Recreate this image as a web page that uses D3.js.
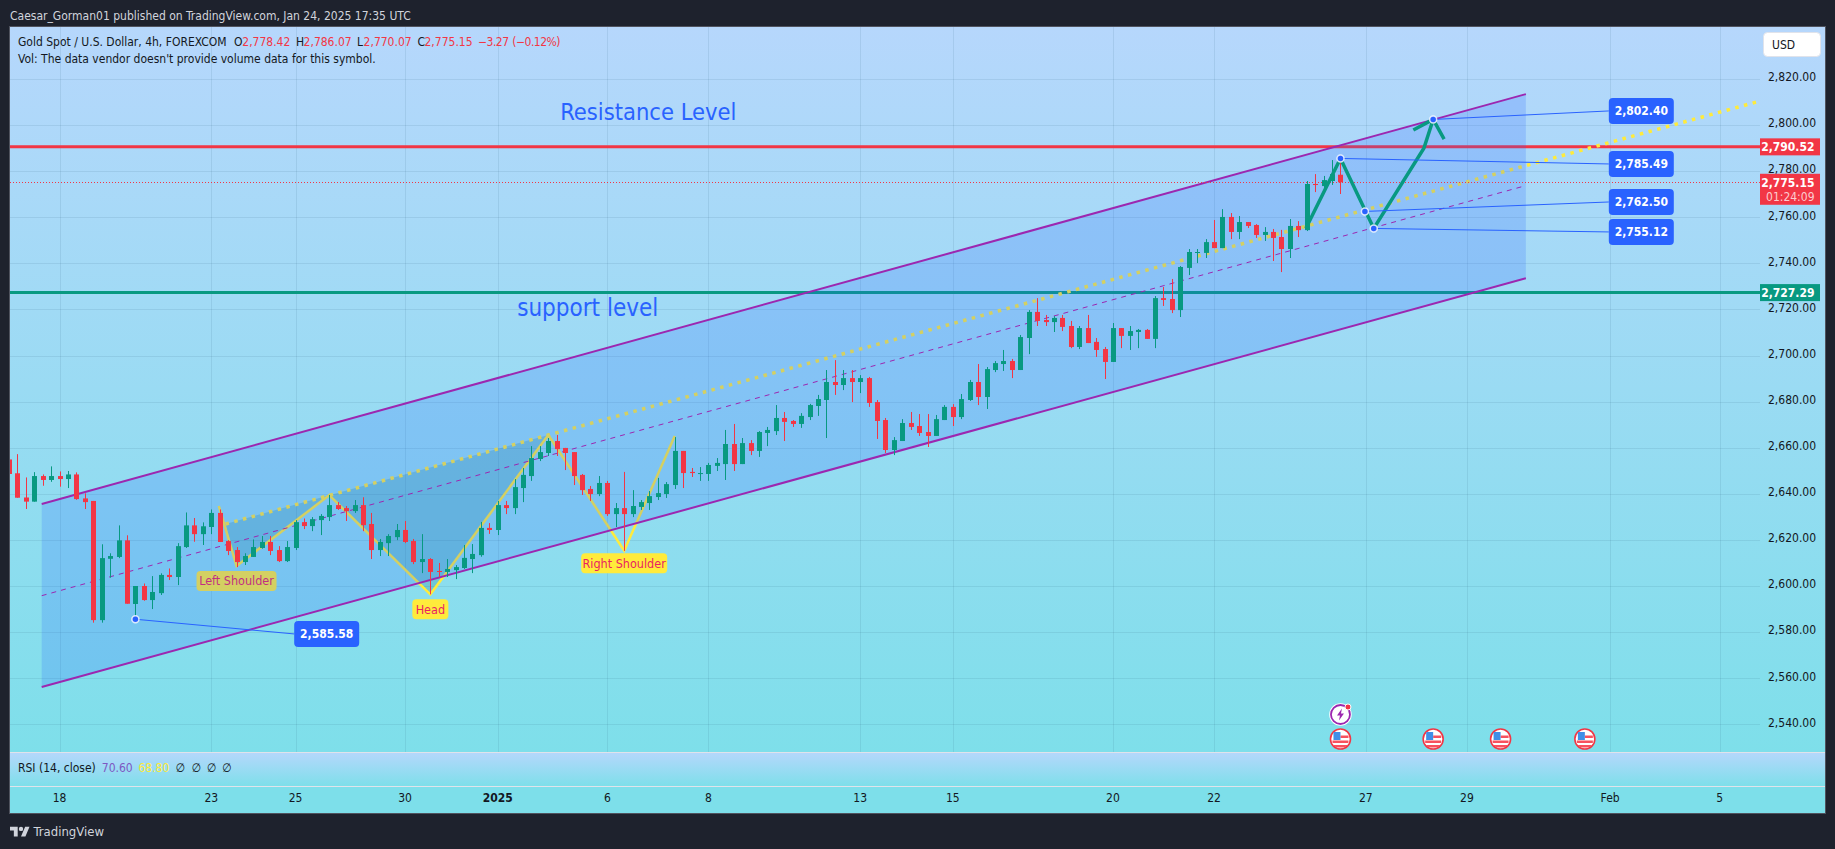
<!DOCTYPE html>
<html><head><meta charset="utf-8">
<script src="https://cdn.jsdelivr.net/npm/d3@7"></script>
<style>html,body{margin:0;padding:0;background:#1e222d;overflow:hidden}svg{display:block}
text{font-family:"DejaVu Sans Condensed","DejaVu Sans";font-stretch:condensed}</style></head><body>
<svg id="c" width="1835" height="849"></svg>
<script>
const opens=[2654.9,2648.9,2638.4,2636.6,2647.7,2646.0,2647.7,2646.4,2648.4,2638.0,2636.9,2585.2,2611.8,2612.6,2619.8,2592.2,2600.0,2593.9,2596.9,2604.8,2603.9,2616.9,2626.3,2622.5,2625.6,2631.7,2619.5,2615.6,2610.4,2612.6,2616.5,2619.1,2615.6,2610.8,2616.5,2627.7,2626.0,2628.6,2629.9,2635.1,2633.8,2632.5,2635.1,2626.9,2615.6,2618.6,2621.2,2624.3,2619.5,2610.4,2611.7,2606.5,2606.1,2606.9,2607.8,2611.7,2613.4,2625.2,2624.3,2635.1,2633.8,2642.5,2647.7,2655.1,2657.7,2662.9,2659.9,2658.1,2648.2,2642.1,2639.9,2644.7,2631.2,2633.8,2631.2,2634.3,2636.0,2638.6,2639.9,2643.8,2658.6,2649.5,2648.6,2648.6,2652.1,2652.9,2661.6,2652.9,2662.0,2658.6,2666.4,2667.2,2672.9,2671.6,2670.3,2673.3,2678.1,2680.7,2688.5,2687.2,2690.2,2688.5,2690.2,2679.8,2672.0,2659.0,2662.9,2670.7,2669.4,2666.8,2665.1,2672.0,2677.7,2673.3,2680.7,2688.5,2682.0,2693.7,2696.3,2697.6,2693.7,2707.6,2718.9,2715.4,2714.5,2716.3,2712.8,2703.7,2711.9,2705.9,2702.8,2697.2,2711.9,2708.5,2710.2,2711.1,2707.2,2724.9,2724.5,2719.7,2738.0,2744.5,2744.5,2749.2,2746.6,2760.1,2753.6,2757.9,2756.6,2752.3,2753.6,2751.4,2746.2,2756.2,2754.4,2774.4,2773.5,2775.7,2778.42];
const highs=[2655.5,2657.2,2647.1,2649.4,2648.4,2651.9,2649.7,2649.9,2649.3,2640.2,2636.9,2618.1,2614.2,2626.3,2622.0,2600.0,2601.1,2604.3,2605.5,2607.6,2618.6,2631.9,2629.5,2627.6,2633.2,2633.2,2619.9,2616.9,2614.2,2620.2,2621.7,2621.7,2617.3,2619.5,2628.6,2629.3,2629.9,2631.2,2639.5,2636.4,2634.7,2637.3,2638.5,2631.7,2620.4,2622.5,2626.9,2628.2,2620.4,2622.5,2612.1,2610.0,2611.7,2609.1,2617.8,2618.2,2627.8,2627.3,2636.9,2636.9,2646.4,2651.2,2660.7,2660.7,2664.2,2665.5,2659.9,2658.1,2648.6,2643.4,2647.7,2645.6,2636.0,2649.5,2641.6,2637.3,2641.2,2646.9,2645.1,2664.6,2658.6,2651.2,2651.6,2653.4,2655.5,2667.7,2670.3,2664.2,2663.3,2667.2,2669.0,2678.5,2675.5,2672.0,2675.0,2679.0,2682.9,2693.7,2698.0,2693.7,2693.7,2691.5,2690.7,2680.7,2672.9,2664.6,2672.4,2675.5,2674.6,2674.6,2674.2,2678.5,2678.9,2683.3,2689.4,2696.3,2695.0,2697.6,2702.4,2698.5,2708.9,2719.7,2724.9,2717.6,2717.1,2717.6,2715.0,2712.8,2717.6,2707.6,2703.7,2714.1,2711.9,2712.8,2711.5,2711.5,2725.8,2729.7,2733.2,2738.8,2746.2,2746.2,2750.5,2758.8,2763.5,2761.8,2760.5,2757.9,2757.0,2755.7,2754.9,2754.5,2759.2,2758.3,2775.7,2778.7,2777.9,2784.8,2786.07];
const lows=[2648.0,2638.3,2633.4,2636.6,2643.5,2645.2,2643.1,2642.5,2637.4,2633.4,2584.1,2584.1,2603.6,2612.1,2592.3,2585.58,2593.6,2590.0,2596.1,2602.6,2600.4,2616.5,2619.2,2617.8,2622.5,2619.1,2613.4,2608.2,2609.1,2612.6,2616.2,2613.4,2610.4,2610.4,2615.6,2624.7,2623.8,2622.1,2628.2,2633.0,2628.2,2631.7,2623.8,2611.7,2613.0,2613.0,2619.9,2618.6,2609.5,2605.6,2596.4,2603.9,2603.9,2603.0,2607.4,2605.6,2612.7,2622.6,2622.1,2631.2,2631.2,2636.4,2645.6,2654.2,2656.4,2656.4,2650.3,2643.8,2639.5,2636.9,2639.0,2630.4,2625.6,2615.2,2629.9,2633.0,2633.0,2637.3,2638.2,2642.1,2642.5,2647.3,2645.6,2645.6,2649.9,2646.0,2649.9,2652.9,2656.8,2656.0,2660.7,2665.5,2662.9,2669.0,2668.6,2672.0,2673.8,2664.2,2682.9,2685.0,2679.8,2683.7,2677.7,2663.8,2657.7,2656.8,2662.9,2667.7,2665.1,2660.3,2665.1,2672.0,2669.4,2672.4,2680.3,2678.5,2676.8,2692.8,2693.3,2690.2,2693.7,2700.6,2712.8,2712.8,2710.2,2710.6,2703.2,2702.8,2705.4,2699.4,2689.8,2697.2,2703.2,2702.4,2703.2,2707.2,2703.2,2721.5,2718.4,2716.7,2734.9,2740.1,2742.3,2746.6,2746.6,2750.5,2750.5,2755.3,2751.0,2749.7,2741.0,2736.2,2742.3,2751.4,2754.0,2770.9,2771.8,2774.0,2770.07];
const closes=[2648.6,2638.3,2636.6,2647.7,2646.0,2647.7,2646.4,2648.4,2637.7,2636.4,2585.2,2612.1,2613.0,2619.8,2592.3,2600.0,2593.9,2597.4,2604.8,2603.9,2617.3,2626.3,2622.5,2625.9,2631.7,2619.1,2615.2,2610.4,2613.0,2616.9,2619.1,2615.2,2610.8,2616.9,2627.7,2626.0,2629.0,2630.4,2635.1,2633.4,2632.5,2635.1,2626.4,2615.6,2619.1,2621.7,2624.3,2619.1,2610.4,2611.7,2606.1,2606.1,2607.4,2608.2,2612.2,2613.9,2625.2,2624.3,2635.1,2633.8,2642.9,2648.2,2655.5,2658.1,2662.9,2659.4,2657.7,2647.7,2641.6,2639.9,2644.7,2631.2,2633.8,2631.2,2634.7,2636.4,2639.0,2640.3,2644.2,2658.6,2649.0,2649.0,2649.0,2652.5,2653.4,2661.6,2652.9,2662.0,2658.6,2666.8,2667.7,2672.9,2671.2,2670.3,2673.8,2678.5,2681.1,2688.5,2687.2,2690.2,2688.5,2690.2,2679.4,2671.6,2659.0,2663.3,2670.7,2669.0,2666.4,2665.1,2672.4,2677.7,2673.3,2681.1,2688.5,2682.0,2694.1,2696.7,2697.6,2693.7,2708.0,2718.9,2715.0,2714.5,2716.3,2712.4,2703.7,2711.9,2705.4,2702.4,2697.2,2711.9,2708.5,2710.6,2711.1,2707.2,2724.9,2724.1,2719.7,2738.4,2744.9,2744.9,2749.2,2746.6,2760.1,2753.6,2757.9,2756.2,2752.3,2753.6,2751.0,2746.2,2756.2,2754.4,2774.4,2774.0,2776.1,2778.7,2775.15];
const priceTicks=[2540,2560,2580,2600,2620,2640,2660,2680,2700,2720,2740,2760,2780,2800,2820];
const timeBars=[6,24,34,47,58,71,83,101,112,131,143,161,173,190,203];
const timeLabels=["18","23","25","30","2025","6","8","13","15","20","22","27","29","Feb","5"];
const resistancePrice=2790.52, supportPrice=2727.29, lastPrice=2775.15;
const channelUpper=[[3.88,2635.6],[180,2813.4]];
const channelLower=[[3.88,2556.2],[180,2733.5]];
const channelMid=[[3.88,2595.8],[179.5,2773.2]];
const neckline=[[25.7,2626.9],[207.5,2810.1]];
const patternPts=[[24.9,2634.7],[27,2608.7],[38,2639.4],[50,2596.4],[64,2665.5],[73,2615.3],[79,2665.1]];
const patternLabels=[["Left Shoulder",27,2608.7],["Head",50,2596.4],["Right Shoulder",73,2615.3]];
const arrowPts=[[153.9,2755.2],[158,2785.49],[161.95,2755.12],[167.9,2789.9],[169,2802.4]];
const arrowHead=[[166.65,2797.8],[169,2802.4],[170.3,2793.9]];
const callouts=[[15,2585.58,37.7,2579.2],[169,2802.40,193.7,2806.1],[158,2785.49,193.7,2783.1],[160.9,2762.50,193.7,2766.6],[161.95,2755.12,193.7,2753.6]];
const calendarBars=[158,169,177,187];

const svg=d3.select("#c");
const defs=svg.append("defs");
const grad=defs.append("linearGradient").attr("id","bg").attr("x1",0).attr("x2",0).attr("y1",0).attr("y2",1);
grad.append("stop").attr("offset",0).attr("stop-color","#b6d7fc");
grad.append("stop").attr("offset",1).attr("stop-color","#7edfea");
const PL=10,PR=1825,PT=27,PB=752,RB=786,TB=813,AX=1760;
defs.append("clipPath").attr("id","plot").append("rect").attr("x",PL).attr("y",PT).attr("width",AX-PL).attr("height",PB-PT);
const x=d3.scaleLinear().domain([0,210]).range([9,9+8.427*210]);
const y=d3.scaleLinear().domain([2540,2800]).range([724.3,125]);
const line=d3.line().x(d=>x(d[0])).y(d=>y(d[1]));
const fmt=d3.format(",.2f");
const UI='"DejaVu Sans Condensed","DejaVu Sans"';

svg.append("rect").attr("width",1835).attr("height",849).attr("fill","#1e222d");
svg.append("rect").attr("x",PL).attr("y",PT).attr("width",PR-PL).attr("height",PB-PT).attr("fill","url(#bg)");
svg.append("rect").attr("x",PL).attr("y",PB).attr("width",PR-PL).attr("height",RB-PB).attr("fill","url(#bg)");
svg.append("rect").attr("x",PL).attr("y",RB).attr("width",PR-PL).attr("height",TB-RB).attr("fill","#7ddfea");

// grid
const gridC="rgba(30,80,110,0.10)";
const gridY=svg.append("g").attr("clip-path","url(#plot)");
gridY.selectAll("line.h").data(priceTicks).join("line").attr("x1",PL).attr("x2",AX)
 .attr("y1",d=>Math.round(y(d))+.5).attr("y2",d=>Math.round(y(d))+.5).attr("stroke",gridC);
gridY.selectAll("line.v").data(timeBars).join("line").attr("y1",PT).attr("y2",PB)
 .attr("x1",d=>Math.round(x(d))+.5).attr("x2",d=>Math.round(x(d))+.5).attr("stroke",gridC);

const plot=svg.append("g").attr("clip-path","url(#plot)");
// under-channel drawings
plot.append("line").attr("x1",PL).attr("x2",AX).attr("y1",y(resistancePrice)).attr("y2",y(resistancePrice)).attr("stroke","#f23645").attr("stroke-width",3);
plot.append("line").attr("x1",PL).attr("x2",AX).attr("y1",y(supportPrice)).attr("y2",y(supportPrice)).attr("stroke","#089981").attr("stroke-width",3);
const shade=[[neckline[0],patternPts[1],patternPts[2]],[patternPts[2],patternPts[3],patternPts[4]]];
plot.selectAll("path.sh").data(shade).join("path").attr("d",d=>line(d)+"Z").attr("fill","rgb(0,110,122)").attr("fill-opacity",.2);
plot.append("path").attr("d",line(patternPts)).attr("fill","none").attr("stroke","#ffeb3b").attr("stroke-width",2.5).attr("stroke-linejoin","miter");
plot.append("path").attr("d",line(neckline)).attr("fill","none").attr("stroke","#ffeb3b").attr("stroke-width",3.5).attr("stroke-dasharray","3.5 5.5");
const pillW={"Left Shoulder":80,"Head":36,"Right Shoulder":86};
const pillOff={"Left Shoulder":5,"Head":5,"Right Shoulder":2.5};
const pills=plot.selectAll("g.pill").data(patternLabels).join("g").attr("transform",d=>`translate(${x(d[1])},${y(d[2])+pillOff[d[0]]})`);
pills.append("rect").attr("x",d=>-pillW[d[0]]/2).attr("y",0).attr("width",d=>pillW[d[0]]).attr("height",20).attr("rx",4).attr("fill","#ffeb3b");
pills.append("text").attr("text-anchor","middle").attr("y",14.5).attr("font-size",12.5).attr("fill","#e91e63").text(d=>d[0]);
// channel
const chan=channelUpper.concat(channelLower.slice().reverse());
plot.append("path").attr("d",line(chan)+"Z").attr("fill","#2962ff").attr("fill-opacity",.2);
plot.append("path").attr("d",line(channelMid)).attr("fill","none").attr("stroke","#9c27b0").attr("stroke-width",1).attr("stroke-dasharray","5 5");
[channelUpper,channelLower].forEach(c=>plot.append("path").attr("d",line(c)).attr("fill","none").attr("stroke","#9c27b0").attr("stroke-width",2));
// last price
plot.append("line").attr("x1",PL).attr("x2",AX).attr("y1",Math.round(y(lastPrice))+.5).attr("y2",Math.round(y(lastPrice))+.5).attr("stroke","#f23645").attr("stroke-dasharray","1 2");
// candles
const colr=i=>closes[i]>=opens[i]?"#089981":"#f23645";
const idx=d3.range(opens.length);
plot.selectAll("rect.w").data(idx).join("rect").attr("x",i=>Math.round(x(i))).attr("width",1)
 .attr("y",i=>y(highs[i])).attr("height",i=>y(lows[i])-y(highs[i])).attr("fill",colr);
plot.selectAll("rect.b").data(idx).join("rect").attr("x",i=>Math.round(x(i))-2).attr("width",5)
 .attr("y",i=>y(Math.max(opens[i],closes[i]))).attr("height",i=>Math.max(1,Math.abs(y(opens[i])-y(closes[i])))).attr("fill",colr);
// arrow
[arrowPts,arrowHead].forEach(a=>plot.append("path").attr("d",line(a)).attr("fill","none").attr("stroke","#089981").attr("stroke-width",3.5).attr("stroke-linejoin","miter"));
// texts
plot.append("text").attr("x",x(65.4)).attr("y",y(2806.1)+9).attr("font-size",23.5).attr("fill","#2962ff").text("Resistance Level");
plot.append("text").attr("x",x(60.3)).attr("y",y(2720.6)+8).attr("font-size",24).attr("fill","#2962ff").text("support level");
// callouts
const BW=65;
const co=svg.append("g");
co.selectAll("line").data(callouts).join("line").attr("x1",d=>x(d[0])).attr("y1",d=>y(d[1])).attr("x2",d=>x(d[2])-BW/2).attr("y2",d=>y(d[3])).attr("stroke","#2962ff").attr("stroke-width",1);
co.selectAll("circle.o").data(callouts).join("circle").attr("cx",d=>x(d[0])).attr("cy",d=>y(d[1])).attr("r",3.5).attr("fill","#2962ff").attr("stroke","rgba(255,255,255,.8)").attr("stroke-width",1.5);
const box=co.selectAll("g.box").data(callouts).join("g").attr("transform",d=>`translate(${x(d[2])},${y(d[3])})`);
box.append("rect").attr("x",-BW/2).attr("y",-13).attr("width",BW).attr("height",26).attr("rx",4).attr("fill","#2962ff");
box.append("text").attr("x",0).attr("y",4.5).attr("text-anchor","middle").attr("font-size",12).attr("font-weight",700).attr("fill","#fff").text(d=>fmt(d[1]));

// axes
const yAxis=d3.axisRight(y).tickValues(priceTicks).tickFormat(fmt).tickSize(0).tickPadding(0);
const ya=svg.append("g").attr("transform",`translate(1768,-2)`).call(yAxis);
ya.select(".domain").remove();
ya.selectAll("text").attr("font-size",12).attr("fill","#131722").attr("font-family",UI);
const xAxis=d3.axisBottom(x).tickValues(timeBars).tickFormat((d,i)=>timeLabels[i]).tickSize(0).tickPadding(0);
const xa=svg.append("g").attr("transform",`translate(-0.5,${RB+7})`).call(xAxis);
xa.select(".domain").remove();
xa.selectAll("text").attr("font-size",12).attr("fill","#131722").attr("font-family",UI).attr("font-weight",(d,i)=>timeLabels[i]==="2025"?700:400);

// axis badges
function badge(p,h,color,t,t2){const cy=y(p);
 const g=svg.append("g");
 g.append("rect").attr("x",AX).attr("y",cy-8.5).attr("width",60).attr("height",h).attr("fill",color);
 g.append("text").attr("x",1814.5).attr("y",cy+4.5).attr("text-anchor","end").attr("font-size",12).attr("font-weight",700).attr("fill","#fff").text(t);
 if(t2)g.append("text").attr("x",1814.5).attr("y",cy+18.5).attr("text-anchor","end").attr("font-size",12).attr("fill","rgba(255,255,255,.75)").text(t2);
}
badge(resistancePrice,17,"#f23645",fmt(resistancePrice));
badge(supportPrice,17,"#089981",fmt(supportPrice));
badge(lastPrice,31,"#f23645",fmt(lastPrice),"01:24:09");

// USD
svg.append("rect").attr("x",1763.5).attr("y",32.5).attr("width",57).attr("height",24).attr("rx",4).attr("fill","#fff").attr("stroke","#e0e3eb");
svg.append("text").attr("x",1772).attr("y",49).attr("font-size",12).attr("fill","#131722").text("USD");

// legends
const dark="#131722",red="#f23645";
[["Gold Spot / U.S. Dollar, 4h, FOREXCOM",18,dark],["O",234,dark],["2,778.42",242.3,red],["H",296,dark],["2,786.07",303.6,red],["L",357,dark],["2,770.07",363.6,red],["C",417.4,dark],["2,775.15",424.5,red],["−3.27",478,red],["(−0.12%)",512.3,red]]
.forEach(d=>svg.append("text").attr("x",d[1]).attr("y",46).attr("font-size",12).attr("letter-spacing",d[0][0]==="("||d[0][0]==="−"?-0.5:0).attr("fill",d[2]).text(d[0]));
svg.append("text").attr("x",18).attr("y",63).attr("font-size",12).attr("fill",dark).text("Vol: The data vendor doesn't provide volume data for this symbol.");
[["RSI (14, close)",18,dark],["70.60",101.8,"#7e57c2"],["68.80",138.4,"#ffeb3b"],["∅",175.4,dark],["∅",191.5,dark],["∅",206.7,dark],["∅",221.9,dark]]
.forEach(d=>svg.append("text").attr("x",d[1]).attr("y",772).attr("font-size",12).attr("fill",d[2]).text(d[0]));

// events
const evY=739;
const flagClip=defs.append("clipPath").attr("id","fc");flagClip.append("circle").attr("r",9.5);
const ev=svg.selectAll("g.ev").data(calendarBars).join("g").attr("transform",d=>`translate(${x(d)},${evY})`);
ev.append("circle").attr("r",10).attr("fill","#fff").attr("stroke","#f23645").attr("stroke-width",1.6);
const ef=ev.append("g").attr("clip-path","url(#fc)");
ef.append("rect").attr("x",-8).attr("y",1.5).attr("width",16).attr("height",2.5).attr("fill","#f7525f");
ef.append("rect").attr("x",-8).attr("y",6).attr("width",16).attr("height",2.5).attr("fill","#f7525f");
ef.append("rect").attr("x",0).attr("y",-3.5).attr("width",8).attr("height",2.5).attr("fill","#f7525f");
ef.append("rect").attr("x",-7).attr("y",-7).attr("width",7).attr("height",8).attr("fill","#3f8fe8");
const fl=svg.append("g").attr("transform",`translate(${x(158)},714.5)`);
fl.append("circle").attr("r",10.5).attr("fill","#fff").attr("stroke","#fff").attr("stroke-width",1.5);
fl.append("circle").attr("r",9.5).attr("fill","#fff").attr("stroke","#9c27b0").attr("stroke-width",1.8);
fl.append("path").attr("d","M1.5 -6 L-3.5 1 L-0.5 1 L-1.5 6 L3.5 -1 L0.5 -1 Z").attr("fill","#9c27b0");
fl.append("circle").attr("cx",7.5).attr("cy",-7.5).attr("r",3).attr("fill","#f23645").attr("stroke","#fff");

// frame
svg.append("rect").attr("x",PL-.5).attr("y",PT-.5).attr("width",PR-PL+1).attr("height",TB-PT+1).attr("fill","none").attr("stroke","#50535e");
[PB,RB].forEach(v=>svg.append("line").attr("x1",PL).attr("x2",PR).attr("y1",v+.5).attr("y2",v+.5).attr("stroke","#e0e3eb"));

// header + footer
svg.append("text").attr("x",10).attr("y",19.5).attr("font-size",12).attr("fill","#d1d4dc").text("Caesar_Gorman01 published on TradingView.com, Jan 24, 2025 17:35 UTC");
svg.append("path").attr("transform","translate(10,824.5) scale(.55)").attr("d","M14 22H7V11H0V4h14v18zM28 22h-8l7.5-18h8L28 22z").attr("fill","#d1d4dc");
svg.append("circle").attr("transform","translate(10,824.5) scale(.55)").attr("cx",20).attr("cy",8).attr("r",4).attr("fill","#d1d4dc");
svg.append("text").attr("x",33.5).attr("y",836).attr("font-size",13).attr("fill","#d1d4dc").text("TradingView");
</script></body></html>
